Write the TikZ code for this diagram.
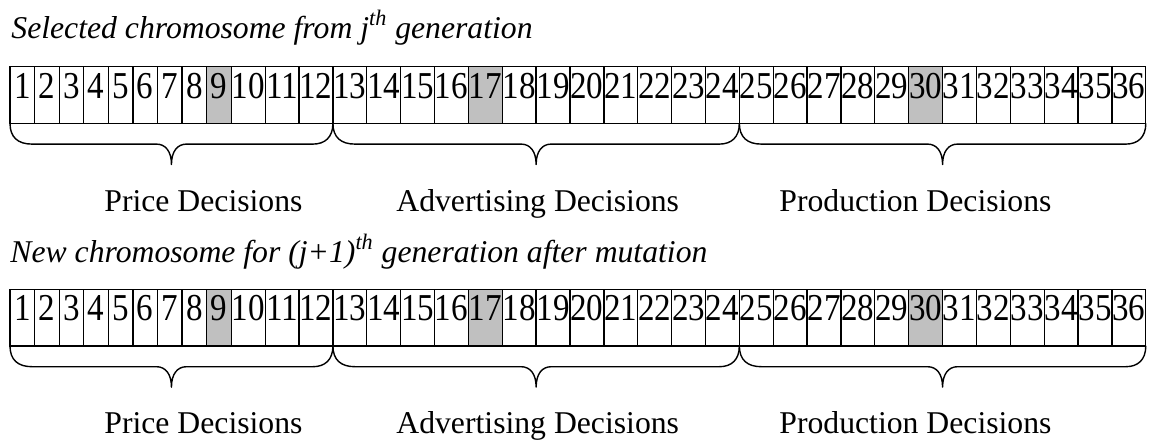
\documentclass[tikz,border=0pt]{standalone}
\usepackage{fontspec}
\usepackage{graphicx}
\setmainfont{Liberation Serif}
\usetikzlibrary{calc}
\definecolor{genegray}{HTML}{C0C0C0}
\tikzset{
  gene/.style={draw=black, line width=0.65pt, minimum height=28.3pt,
    inner sep=0pt, outer sep=0pt, anchor=north west},
  digit/.style={inner sep=0pt, anchor=base,
    font=\fontsize{19pt}{22pt}\selectfont},
  lab/.style={inner sep=0pt, anchor=base west,
    font=\fontsize{15.85pt}{19pt}\selectfont},
  ttl/.style={inner sep=0pt, anchor=base west,
    font=\fontsize{15.85pt}{19pt}\selectfont\itshape},
  bracestyle/.style={draw=black, line width=0.7pt, line join=round}
}
% curly brace under a group of genes, from one cell corner to another
\newcommand{\chrombrace}[2]{%
  \draw[bracestyle] let \p1=(#1), \p2=(#2), \n1={(\x1+\x2)/2} in
    (\p1) .. controls (\x1,\y1-7pt) and (\x1+4pt,\y1-10.4pt) .. (\x1+11pt,\y1-10.4pt)
    -- (\n1-7.5pt,\y1-10.4pt)
    .. controls (\n1-3pt,\y1-10.4pt) and (\n1,\y1-14pt) .. (\n1,\y1-20.6pt)
    .. controls (\n1,\y1-14pt) and (\n1+3pt,\y1-10.4pt) .. (\n1+7.5pt,\y1-10.4pt)
    -- (\x2-10pt,\y1-10.4pt)
    .. controls (\x2-4pt,\y1-10.4pt) and (\x2,\y1-7pt) .. (\p2);%
}
\begin{document}
\begin{tikzpicture}[x=0.5pt,y=-0.5pt]
\useasboundingbox (0,0) rectangle (1149,439);

% generation titles
\node[ttl] (t1) at (11,38) {Selected chromosome from j\textsuperscript{th} generation};
\node[ttl] (t2) at (10,262) {New chromosome for (j+1)\textsuperscript{th} generation after mutation};

% two chromosomes of 36 genes each
\foreach \pre/\yt in {a/66.7, b/289.3}{
  \foreach \i in {1,...,36}{
    \pgfmathsetmacro\xl{\i<10 ? 10+(\i-1)*24.59 : 231.3+(\i-10)*33.87}
    \pgfmathsetmacro\wpt{(\i<10 ? 24.59 : 33.87)*0.5}
    \def\fillc{white}
    \ifnum\i=9 \def\fillc{genegray}\fi
    \ifnum\i=17 \def\fillc{genegray}\fi
    \ifnum\i=30 \def\fillc{genegray}\fi
    \node[gene, fill=\fillc, minimum width=\wpt pt] (\pre\i) at (\xl,\yt) {};
    \node[digit] (\pre n\i) at ($(\pre\i.north)+(0,-15.8pt)$) {\scalebox{0.87}[1]{\i}};
  }
}

% decision groups
\chrombrace{a1.south west}{a12.south east}
\chrombrace{a13.south west}{a24.south east}
\chrombrace{a25.south west}{a36.south east}
\chrombrace{b1.south west}{b12.south east}
\chrombrace{b13.south west}{b24.south east}
\chrombrace{b25.south west}{b36.south east}

\node[lab] (pa) at (104,211) {Price Decisions};
\node[lab] (aa) at (396,211) {Advertising Decisions};
\node[lab] (qa) at (779,211) {Production Decisions};
\node[lab] (pb) at (104,433.6) {Price Decisions};
\node[lab] (ab) at (396,433.6) {Advertising Decisions};
\node[lab] (qb) at (779,433.6) {Production Decisions};
\end{tikzpicture}
\end{document}
